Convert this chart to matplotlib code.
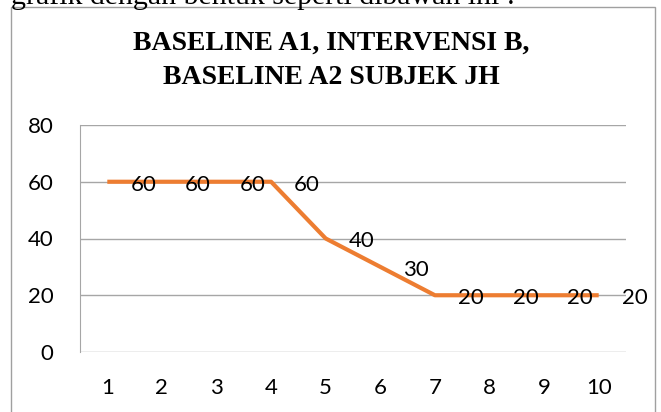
import matplotlib.pyplot as plt
from matplotlib.patches import Rectangle

# data
sessions = [1, 2, 3, 4, 5, 6, 7, 8, 9, 10]
scores = [60, 60, 60, 60, 40, 30, 20, 20, 20, 20]
yticks = [0, 20, 40, 60, 80]

title = 'BASELINE A1, INTERVENSI B,\nBASELINE A2 SUBJEK JH'
line_color = '#ED7D31'
grid_color = '#A6A6A6'
label_font = 'Lato'

fig = plt.figure(figsize=(6.61, 4.12), dpi=100)

# piece of document text cut off at the top
fig.text(11 / 661, 1 - 4 / 412, 'grafik dengan bentuk seperti dibawah ini :',
         family='Liberation Serif', fontsize=21.5, va='baseline', ha='left')

# chart frame
fig.patches.append(Rectangle((11 / 661, -0.05), 644 / 661, 1.05 - 7 / 412,
                             transform=fig.transFigure, fill=False,
                             edgecolor='#A0A0A0', linewidth=1.0))

fig.text(0.501, 0.925, title, family='Liberation Serif', fontweight='bold',
         fontsize=20, ha='center', va='top', linespacing=1.5)

ax = fig.add_axes([80 / 661, 1 - 352 / 412, 546 / 661, 227 / 412])
ax.plot(sessions, scores, color=line_color, linewidth=3, solid_capstyle='butt')

for x, y in zip(sessions, scores):
    ax.annotate(str(y), (x, y), xytext=(36, -3), textcoords='offset pixels',
                ha='center', va='center', fontsize=16, family=label_font)

ax.set_xlim(0.5, 10.5)
ax.set_ylim(0, 80)
ax.set_yticks(yticks)
ax.set_xticks(sessions)
ax.yaxis.grid(True, color=grid_color, linewidth=1)
ax.set_axisbelow(True)
for side in ['top', 'right', 'bottom']:
    ax.spines[side].set_visible(False)
ax.spines['left'].set_color(grid_color)
ax.tick_params(length=0, labelsize=16)
ax.tick_params(axis='y', pad=19)
ax.tick_params(axis='x', pad=19)
for lbl in ax.get_xticklabels() + ax.get_yticklabels():
    lbl.set_family(label_font)

fig.savefig('out.png', dpi=100)
